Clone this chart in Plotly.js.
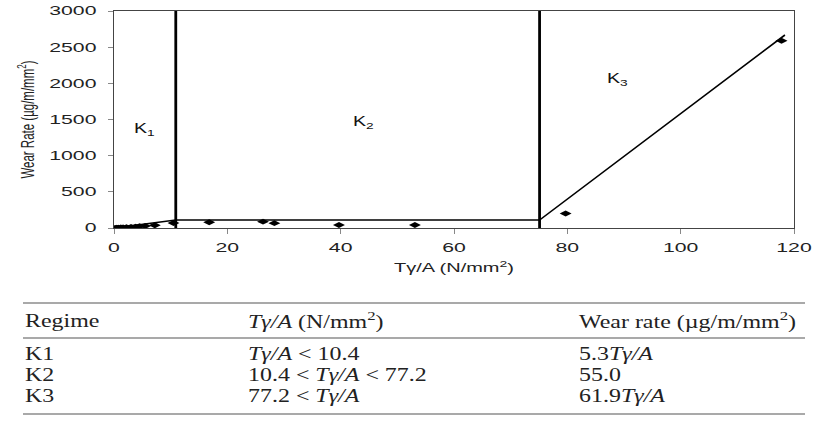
<!DOCTYPE html>
<html>
<head>
<meta charset="utf-8">
<script src="https://cdn.plot.ly/plotly-3.0.1.min.js"></script>
<style>
html,body{margin:0;padding:0;background:#fff;}
#chart{width:836px;height:434px;}
</style>
</head>
<body>
<div id="chart"></div>
<script>
// Measured points
const pointX = [0.2, 0.5, 0.8, 1.2, 1.6, 2.2, 3.0, 3.8, 4.5, 5.5, 7.2, 10.5, 16.8, 26.3, 28.3, 39.7, 53.1, 79.7, 117.8];
const pointY = [1, 3, 4, 6, 8, 11, 15, 19, 23, 28, 37, 68, 80, 88, 67, 42, 42, 200, 2590];

// Regime fit lines
const fitX = [0, 10.9, 75.1, 118.4];
const fitY = [0, 110, 110, 2668];

// Regime boundaries
const boundary1X = [10.9, 10.9];
const boundary2X = [75.1, 75.1];
const boundaryY = [0, 3000];

// Regime labels
const regimeLabels = ['K<sub>1</sub>', 'K<sub>2</sub>', 'K<sub>3</sub>'];
const regimeLabelX = [5.3, 44, 88.9];
const regimeLabelY = [1369, 1465, 2060];

// Axis ticks
const xTicks = [0, 20, 40, 60, 80, 100, 120];
const yTicks = [0, 500, 1000, 1500, 2000, 2500, 3000];

// Table
const tableHeader = ['Regime', '<i>Tγ/A</i> (N/mm<sup>2</sup>)', 'Wear rate (µg/m/mm<sup>2</sup>)'];
const tableRegime = ['K1', 'K2', 'K3'];
const tableRange = ['<i>Tγ/A</i> < 10.4', '10.4 < <i>Tγ/A</i> < 77.2', '77.2 < <i>Tγ/A</i>'];
const tableRate = ['5.3<i>Tγ/A</i>', '55.0', '61.9<i>Tγ/A</i>'];

// Layout geometry (pixels)
const W = 836, H = 434;
const L = 114, R = 794, T = 11, B = 228;
const px2x = p => (p - L) / (R - L);
const px2y = p => (B - p) / (B - T);

const traces = [
  {x: fitX, y: fitY, mode: 'lines', line: {color: '#000', width: 1.6}, hoverinfo: 'skip'},
  {x: boundary1X, y: boundaryY, mode: 'lines', line: {color: '#000', width: 2.8}, hoverinfo: 'skip'},
  {x: boundary2X, y: boundaryY, mode: 'lines', line: {color: '#000', width: 2.8}, hoverinfo: 'skip'},
  {x: pointX, y: pointY, mode: 'markers', marker: {symbol: 'diamond-wide', size: 8.5, color: '#000'}}
];

const serif = {family: 'Liberation Serif, Times New Roman, serif', size: 19, color: '#222'};
const sans = 'Liberation Sans, Arial, sans-serif';
const annotations = [];
regimeLabels.forEach((t, i) => annotations.push({
  x: regimeLabelX[i], y: regimeLabelY[i], xref: 'x', yref: 'y', text: t, showarrow: false,
  font: {family: sans, size: 14, color: '#111'}
}));
const colX = [23, 246, 577];
tableHeader.forEach((t, i) => annotations.push({
  x: px2x(colX[i]), y: px2y(320), xref: 'paper', yref: 'paper', text: t, showarrow: false,
  xanchor: 'left', yanchor: 'middle', font: serif
}));
const rowY = [353, 374, 395];
[tableRegime, tableRange, tableRate].forEach((col, c) => col.forEach((t, r) => annotations.push({
  x: px2x(colX[c]), y: px2y(rowY[r]), xref: 'paper', yref: 'paper', text: t, showarrow: false,
  xanchor: 'left', yanchor: 'middle', font: serif
})));

const ruleYs = [303, 338, 414];
const shapes = ruleYs.map(py => ({
  type: 'line', xref: 'paper', yref: 'paper', x0: px2x(23), x1: px2x(805), y0: px2y(py), y1: px2y(py),
  line: {color: '#555', width: 1.2}
}));

const layout = {
  width: W, height: H,
  margin: {l: L, r: W - R, t: T, b: H - B},
  paper_bgcolor: '#fff', plot_bgcolor: '#fff',
  showlegend: false,
  font: {family: sans, color: '#222'},
  xaxis: {
    range: [0, 120], tickvals: xTicks, ticktext: xTicks.map(String),
    showgrid: false, zeroline: false, showline: true, mirror: true, linecolor: '#444', linewidth: 1,
    ticks: 'outside', ticklen: 5, tickcolor: '#888', ticklabelstandoff: 3,
    tickfont: {family: sans, size: 12.5, color: '#222'},
    title: {text: 'Tγ/A (N/mm<sup>2</sup>)', font: {family: sans, size: 12.5, color: '#222'}, standoff: 9}
  },
  yaxis: {
    range: [0, 3000], tickvals: yTicks, ticktext: yTicks.map(String),
    showgrid: false, zeroline: false, showline: true, mirror: true, linecolor: '#444', linewidth: 1,
    ticks: 'outside', ticklen: 5, tickcolor: '#888', ticklabelstandoff: 9,
    tickfont: {family: sans, size: 12.5, color: '#222'},
    title: {text: 'Wear Rate (µg/m/mm<sup>2</sup>)', font: {family: sans, size: 11.5, color: '#222'}, standoff: 34}
  },
  annotations: annotations,
  shapes: shapes
};

// Horizontal stretch of text, as in the reference picture
function stretch(el, s, mode, origin) {
  const bb = el.getBBox();
  const prev = el.getAttribute('transform') || '';
  if (mode === 'x') {
    const a = origin || el.getAttribute('text-anchor') || 'start';
    const ox = a === 'end' ? bb.x + bb.width : a === 'middle' ? bb.x + bb.width / 2 : bb.x;
    el.setAttribute('transform', prev + ' translate(' + ox + ',0) scale(' + s + ',1) translate(' + (-ox) + ',0)');
  } else {
    const oy = bb.y + bb.height / 2;
    el.setAttribute('transform', prev + ' translate(0,' + oy + ') scale(1,' + s + ') translate(0,' + (-oy) + ')');
  }
}

Plotly.newPlot('chart', traces, layout, {displayModeBar: false, staticPlot: true}).then(gd => {
  gd.querySelectorAll('.xtick text, .ytick text').forEach(el => stretch(el, 1.7, 'x'));
  gd.querySelectorAll('.g-xtitle text').forEach(el => stretch(el, 1.6, 'x'));
  gd.querySelectorAll('.g-ytitle text').forEach(el => stretch(el, 1.6, 'y'));
  gd.querySelectorAll('.annotation').forEach(g => {
    const idx = +g.getAttribute('data-index');
    const t = g.querySelector('.annotation-text');
    if (!t) return;
    if (idx < regimeLabels.length) stretch(t, 1.4, 'x', 'middle');
    else stretch(t, 1.26, 'x', 'start');
  });
});
</script>
</body>
</html>
